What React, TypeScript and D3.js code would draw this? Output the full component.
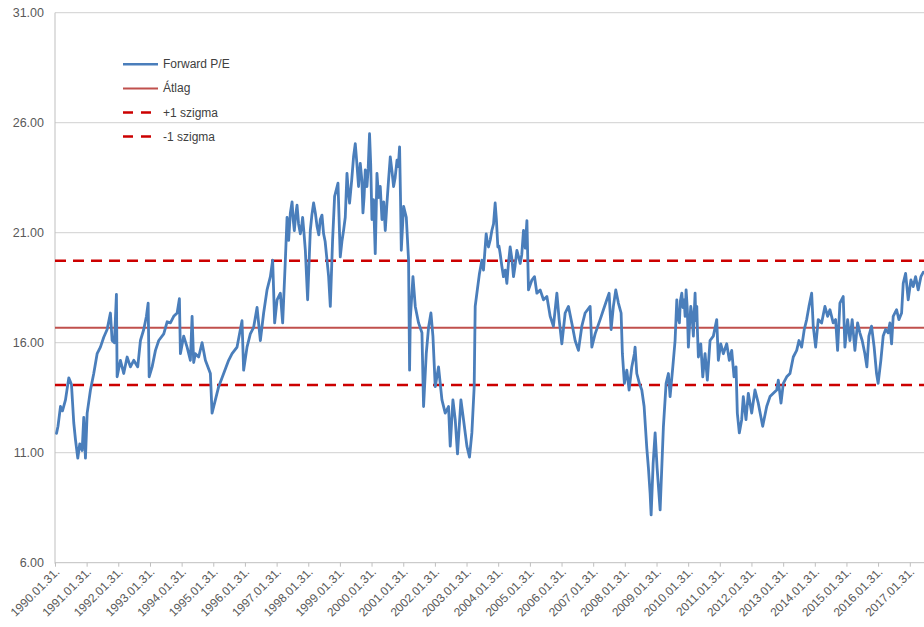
import React from "react";
import * as d3 from "d3";

// ---- data (decimal year, forward P/E) ----
const forwardPE: [number, number][] = [
  [1990.114, 11.88], [1990.161, 12.2], [1990.24, 13.1], [1990.303, 12.9], [1990.398, 13.4],
  [1990.502, 14.4], [1990.587, 14.1], [1990.66, 12.35], [1990.713, 11.6], [1990.786, 10.75],
  [1990.849, 11.4], [1990.925, 11.1], [1990.975, 12.6], [1991.029, 10.75], [1991.083, 12.8],
  [1991.187, 13.85], [1991.291, 14.6], [1991.398, 15.5], [1991.502, 15.8], [1991.607, 16.25],
  [1991.714, 16.6], [1991.818, 17.35], [1991.872, 16.1], [1991.944, 16.0], [1992.008, 18.2],
  [1992.03, 14.45], [1992.134, 15.2], [1992.238, 14.6], [1992.345, 15.35], [1992.449, 14.9],
  [1992.554, 15.2], [1992.68, 14.9], [1992.765, 16.1], [1992.869, 16.6], [1992.954, 17.2],
  [1993.008, 17.8], [1993.04, 14.45], [1993.134, 14.9], [1993.239, 15.65], [1993.343, 16.1],
  [1993.501, 16.4], [1993.608, 16.95], [1993.712, 16.9], [1993.816, 17.2], [1993.924, 17.35],
  [1993.996, 18.0], [1994.028, 15.5], [1994.132, 16.3], [1994.239, 15.8], [1994.343, 15.2],
  [1994.397, 17.2], [1994.447, 15.1], [1994.501, 15.5], [1994.605, 15.35], [1994.713, 16.0],
  [1994.817, 15.2], [1994.975, 14.6], [1995.028, 12.8], [1995.133, 13.4], [1995.237, 14.0],
  [1995.395, 14.6], [1995.552, 15.2], [1995.66, 15.5], [1995.818, 15.8], [1995.975, 17.0],
  [1996.026, 14.75], [1996.133, 15.8], [1996.237, 16.4], [1996.342, 16.7], [1996.449, 17.6],
  [1996.553, 16.1], [1996.657, 17.35], [1996.764, 18.4], [1996.869, 19.0], [1996.941, 19.75],
  [1997.004, 16.9], [1997.08, 17.95], [1997.184, 18.25], [1997.257, 16.9], [1997.342, 19.75],
  [1997.396, 21.7], [1997.42, 21.3], [1997.446, 20.65], [1997.5, 21.9], [1997.554, 22.4],
  [1997.59, 21.6], [1997.626, 21.1], [1997.67, 21.8], [1997.711, 22.25], [1997.76, 21.4],
  [1997.816, 20.95], [1997.85, 21.2], [1997.888, 21.7], [1997.93, 21.0], [1997.974, 20.2],
  [1998.046, 17.95], [1998.131, 21.1], [1998.18, 21.8], [1998.235, 22.35], [1998.29, 21.9],
  [1998.343, 21.3], [1998.4, 20.9], [1998.447, 21.6], [1998.5, 21.8], [1998.551, 20.95],
  [1998.6, 20.6], [1998.659, 19.75], [1998.71, 19.0], [1998.763, 17.65], [1998.835, 20.65],
  [1998.899, 22.65], [1999.006, 23.25], [1999.078, 19.9], [1999.13, 20.6], [1999.182, 21.1],
  [1999.236, 21.7], [1999.29, 23.7], [1999.33, 22.9], [1999.372, 22.35], [1999.44, 23.4],
  [1999.498, 24.45], [1999.552, 25.05], [1999.6, 24.2], [1999.656, 23.1], [1999.71, 24.15],
  [1999.76, 23.4], [1999.795, 21.9], [1999.83, 22.6], [1999.868, 23.85], [1999.921, 23.1],
  [1999.96, 23.9], [2000.003, 25.5], [2000.04, 24.1], [2000.079, 21.6], [2000.13, 22.5],
  [2000.183, 20.05], [2000.21, 21.8], [2000.237, 23.7], [2000.29, 22.6], [2000.341, 23.1],
  [2000.395, 21.6], [2000.45, 22.4], [2000.499, 21.1], [2000.55, 22.3], [2000.603, 23.4],
  [2000.657, 24.45], [2000.71, 23.8], [2000.761, 23.1], [2000.81, 23.5], [2000.869, 24.3],
  [2000.91, 24.0], [2000.95, 24.9], [2000.98, 22.5], [2001.004, 20.2], [2001.077, 22.2],
  [2001.162, 21.7], [2001.234, 19.75], [2001.266, 14.75], [2001.288, 17.05], [2001.373, 19.0],
  [2001.446, 17.65], [2001.55, 16.9], [2001.657, 16.45], [2001.708, 13.1], [2001.793, 15.5],
  [2001.866, 16.7], [2001.941, 17.35], [2002.004, 16.3], [2002.077, 14.0], [2002.181, 14.9],
  [2002.289, 13.4], [2002.393, 12.8], [2002.497, 13.1], [2002.551, 11.3], [2002.636, 13.4],
  [2002.709, 12.5], [2002.781, 10.95], [2002.889, 13.4], [2002.971, 12.5], [2003.078, 11.3],
  [2003.16, 10.8], [2003.235, 11.9], [2003.308, 14.0], [2003.34, 17.65], [2003.393, 18.25],
  [2003.475, 19.15], [2003.551, 19.75], [2003.602, 19.3], [2003.687, 20.95], [2003.72, 20.6],
  [2003.76, 20.35], [2003.82, 20.7], [2003.867, 21.1], [2003.92, 21.4], [2003.971, 22.35],
  [2004.01, 21.6], [2004.056, 20.35], [2004.09, 20.4], [2004.129, 20.05], [2004.18, 19.5],
  [2004.233, 19.0], [2004.29, 19.3], [2004.34, 18.7], [2004.39, 19.6], [2004.444, 20.35],
  [2004.5, 19.8], [2004.549, 19.0], [2004.6, 19.5], [2004.656, 20.2], [2004.71, 19.9],
  [2004.76, 19.6], [2004.81, 20.0], [2004.864, 21.1], [2004.92, 20.3], [2004.972, 21.55],
  [2005.022, 18.4], [2005.129, 18.85], [2005.212, 19.0],
  [2005.287, 18.25], [2005.391, 18.4], [2005.496, 17.95], [2005.603, 18.1], [2005.707, 17.2],
  [2005.811, 16.75], [2005.919, 18.25], [2005.991, 17.05], [2006.076, 15.95], [2006.181, 17.35],
  [2006.285, 17.65], [2006.411, 16.75], [2006.496, 16.1], [2006.601, 15.65], [2006.708, 16.75],
  [2006.812, 17.35], [2006.97, 17.65], [2007.024, 15.8], [2007.128, 16.4], [2007.286, 17.05],
  [2007.39, 17.5], [2007.497, 17.95], [2007.57, 18.25], [2007.633, 16.6], [2007.705, 17.65],
  [2007.781, 18.4], [2007.864, 17.8], [2007.949, 17.35], [2007.99, 15.5], [2008.053, 14.15],
  [2008.129, 14.75], [2008.201, 13.85], [2008.286, 14.9], [2008.368, 15.5], [2008.39, 15.8],
  [2008.444, 14.6], [2008.526, 14.15], [2008.602, 13.85], [2008.675, 13.1], [2008.76, 11.2],
  [2008.811, 10.3], [2008.864, 9.15], [2008.896, 8.17], [2008.959, 10.5], [2009.022, 11.9],
  [2009.085, 10.3], [2009.18, 8.4], [2009.284, 12.2], [2009.369, 14.15], [2009.442, 14.6],
  [2009.495, 13.55], [2009.581, 14.9], [2009.653, 16.1], [2009.707, 17.95], [2009.73, 17.2],
  [2009.789, 16.9], [2009.82, 17.9], [2009.865, 18.25], [2009.9, 17.6], [2009.938, 17.95],
  [2009.97, 17.2], [2010.001, 18.4], [2010.04, 17.5], [2010.073, 15.8], [2010.11, 16.8],
  [2010.149, 17.65], [2010.19, 17.2], [2010.231, 16.3], [2010.26, 17.4], [2010.285, 18.25],
  [2010.31, 17.0], [2010.339, 17.65], [2010.36, 16.5], [2010.389, 15.35], [2010.465, 15.95],
  [2010.528, 14.45], [2010.6, 15.5], [2010.673, 14.3], [2010.758, 16.1], [2010.862, 16.3],
  [2010.969, 17.05], [2011.02, 15.2], [2011.096, 15.95], [2011.178, 15.5], [2011.285, 15.95],
  [2011.367, 15.2], [2011.443, 15.65], [2011.516, 14.45], [2011.579, 14.9], [2011.62, 12.8],
  [2011.683, 11.9], [2011.758, 12.5], [2011.809, 13.55], [2011.894, 12.5], [2011.967, 13.7],
  [2012.074, 12.8], [2012.178, 13.85], [2012.282, 13.25], [2012.421, 12.2], [2012.547, 13.1],
  [2012.651, 13.55], [2012.756, 13.7], [2012.863, 13.85], [2012.913, 14.3], [2012.998, 13.25],
  [2013.071, 14.15], [2013.178, 14.45], [2013.282, 14.6], [2013.386, 15.35], [2013.494, 15.65],
  [2013.566, 16.1], [2013.651, 15.8], [2013.733, 16.6], [2013.809, 17.05], [2013.882, 17.65],
  [2013.967, 18.25], [2014.017, 16.75], [2014.093, 15.8], [2014.175, 17.05], [2014.282, 16.9],
  [2014.386, 17.65], [2014.472, 17.2], [2014.544, 17.5], [2014.648, 16.9], [2014.724, 17.05],
  [2014.787, 15.65], [2014.86, 17.8], [2014.964, 18.1], [2015.018, 15.8], [2015.103, 17.05],
  [2015.176, 16.1], [2015.248, 17.05], [2015.334, 15.65], [2015.419, 16.9], [2015.491, 16.45],
  [2015.564, 16.1], [2015.649, 15.5], [2015.712, 14.9], [2015.775, 16.3], [2015.86, 16.75],
  [2015.942, 15.8], [2016.018, 14.6], [2016.068, 14.15], [2016.154, 15.2], [2016.227, 16.3],
  [2016.303, 16.6], [2016.385, 16.45], [2016.439, 16.9], [2016.492, 15.95], [2016.543, 17.2],
  [2016.65, 17.5], [2016.723, 17.05], [2016.808, 17.35], [2016.859, 18.7], [2016.934, 19.15],
  [2017.016, 17.95], [2017.102, 18.85], [2017.174, 18.55], [2017.25, 19.0], [2017.332, 18.4],
  [2017.418, 19.0], [2017.491, 19.2],
];

const meanPE = 16.68;
const plusSigma = 19.73;
const minusSigma = 14.08;

const yTicks = [6, 11, 16, 21, 26, 31];
const xTickLabels = [
  "1990.01.31.", "1991.01.31.", "1992.01.31.", "1993.01.31.", "1994.01.31.", "1995.01.31.",
  "1996.01.31.", "1997.01.31.", "1998.01.31.", "1999.01.31.", "2000.01.31.", "2001.01.31.",
  "2002.01.31.", "2003.01.31.", "2004.01.31.", "2005.01.31.", "2006.01.31.", "2007.01.31.",
  "2008.01.31.", "2009.01.31.", "2010.01.31.", "2011.01.31.", "2012.01.31.", "2013.01.31.",
  "2014.01.31.", "2015.01.31.", "2016.01.31.", "2017.01.31.",
];
const legendLabels = ["Forward P/E", "Átlag", "+1 szigma", "-1 szigma"];

// ---- helpers ----
const parseLabel = (s: string) => {
  const [y, m, d] = s.split(".").map(Number);
  return new Date(y, m - 1, d);
};
const decToDate = (t: number) => {
  const y = Math.floor(t);
  const start = new Date(y, 0, 1).getTime();
  const end = new Date(y + 1, 0, 1).getTime();
  return new Date(start + (t - y) * (end - start));
};

const W = 924;
const H = 627;
const BLUE = "#4A7EBB";
const MEAN_RED = "#C0504D";
const SIGMA_RED = "#CC0000";
const FONT = "'Liberation Sans', Arial, sans-serif";

export default function App() {
  const x = d3
    .scaleTime()
    .domain([parseLabel(xTickLabels[0]), parseLabel(xTickLabels[xTickLabels.length - 1])])
    .range([55.5, 910.3]);
  const y = d3.scaleLinear().domain([6, 31]).range([562.7, 12.7]);
  const left = 55;
  const right = W;

  const line = d3
    .line<[number, number]>()
    .x((d) => x(decToDate(d[0])))
    .y((d) => y(d[1]));

  const legendRows = [
    { label: legendLabels[0], color: BLUE, dash: undefined, width: 2.5 },
    { label: legendLabels[1], color: MEAN_RED, dash: undefined, width: 2 },
    { label: legendLabels[2], color: SIGMA_RED, dash: "10,8", width: 2.5 },
    { label: legendLabels[3], color: SIGMA_RED, dash: "10,8", width: 2.5 },
  ];

  return (
    <svg
      width={W}
      height={H}
      style={{ position: "absolute", left: 0, top: 0, background: "#fff" }}
      fontFamily={FONT}
    >
      <rect x={0} y={0} width={W} height={H} fill="#fff" />
      {/* gridlines */}
      {yTicks.slice(1).map((t) => (
        <line key={t} x1={left} x2={right} y1={y(t)} y2={y(t)} stroke="#D0D0D0" strokeWidth={1} />
      ))}
      {/* axes */}
      <line x1={left} x2={left} y1={y(31)} y2={y(6) + 1} stroke="#BFBFBF" strokeWidth={1} />
      <line x1={left} x2={right} y1={y(6)} y2={y(6)} stroke="#BFBFBF" strokeWidth={1} />
      {xTickLabels.map((s) => {
        const px = x(parseLabel(s));
        return (
          <line key={"t" + s} x1={px} x2={px} y1={y(6)} y2={y(6) + 4} stroke="#BFBFBF" strokeWidth={1} />
        );
      })}
      {/* y labels */}
      {yTicks.map((t) => (
        <text
          key={"yl" + t}
          x={44}
          y={y(t)}
          textAnchor="end"
          dominantBaseline="central"
          fontSize={12.5}
          fill="#595959"
        >
          {t.toFixed(2)}
        </text>
      ))}
      {/* x labels */}
      {xTickLabels.map((s) => {
        const px = x(parseLabel(s));
        return (
          <text
            key={"xl" + s}
            transform={`translate(${px + 2},${y(6) + 7}) rotate(-45)`}
            textAnchor="end"
            dominantBaseline="central"
            fontSize={12}
            fill="#595959"
          >
            {s}
          </text>
        );
      })}
      {/* reference lines */}
      <line x1={left} x2={right} y1={y(meanPE)} y2={y(meanPE)} stroke={MEAN_RED} strokeWidth={2} />
      <line
        x1={left}
        x2={right}
        y1={y(plusSigma)}
        y2={y(plusSigma)}
        stroke={SIGMA_RED}
        strokeWidth={2.5}
        strokeDasharray="11,7"
      />
      <line
        x1={left}
        x2={right}
        y1={y(minusSigma)}
        y2={y(minusSigma)}
        stroke={SIGMA_RED}
        strokeWidth={2.5}
        strokeDasharray="11,7"
      />
      {/* series */}
      <path
        d={line(forwardPE) || ""}
        fill="none"
        stroke={BLUE}
        strokeWidth={2.8}
        strokeLinejoin="round"
        strokeLinecap="round"
      />
      {/* legend */}
      {legendRows.map((r, i) => {
        const ly = 64.3 + i * 24.1;
        return (
          <g key={r.label}>
            <line
              x1={123}
              x2={r.dash ? 152 : 158}
              y1={ly}
              y2={ly}
              stroke={r.color}
              strokeWidth={r.width}
              strokeDasharray={r.dash}
            />
            <text x={163} y={ly} dominantBaseline="central" fontSize={12} fill="#404040">
              {r.label}
            </text>
          </g>
        );
      })}
    </svg>
  );
}
